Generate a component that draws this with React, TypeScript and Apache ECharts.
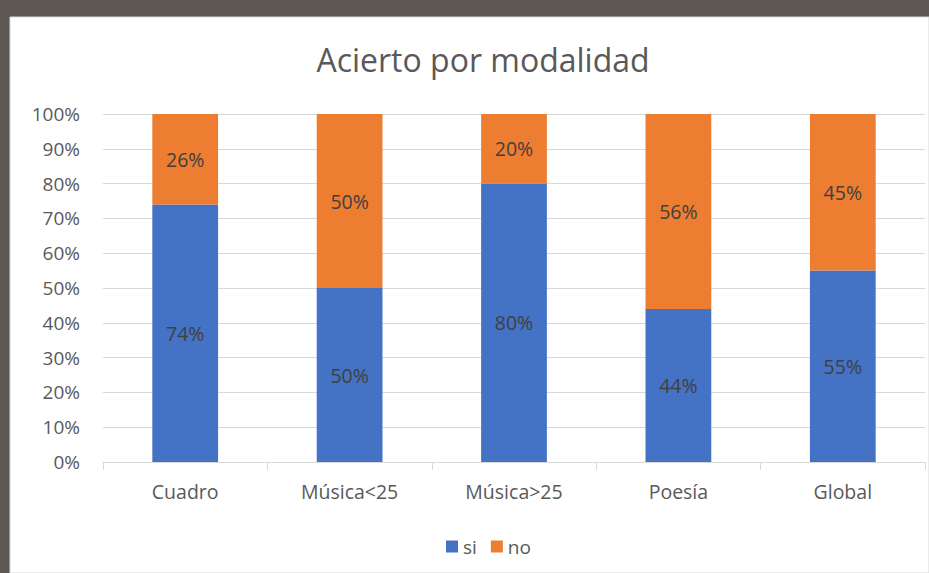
import React, { useEffect, useRef } from "react";
import * as echarts from "echarts";

const categories = ["Cuadro", "Música<25", "Música>25", "Poesía", "Global"];
const siValues = [74, 50, 80, 44, 55];
const noValues = [26, 50, 20, 56, 45];
const yTicks = [0, 10, 20, 30, 40, 50, 60, 70, 80, 90, 100];
const titleText = "Acierto por modalidad";

const FONT = "'Open Sans', 'Noto Sans', sans-serif";

export default function App() {
  const ref = useRef<HTMLDivElement>(null);
  useEffect(() => {
    if (!ref.current) return;
    const chart = echarts.init(ref.current, undefined, { renderer: "svg" });
    chart.setOption({
      animation: false,
      backgroundColor: "#5f5752",
      textStyle: { fontFamily: FONT },
      graphic: [
        {
          type: "rect",
          z: -10,
          shape: { x: 10, y: 17, width: 919, height: 556 },
          style: { fill: "#ffffff", stroke: "#d9d9d9", lineWidth: 1 },
        },
      ],
      title: {
        text: titleText,
        left: 478,
        top: 38,
        textAlign: "center",
        textStyle: { fontFamily: FONT, fontSize: 32, fontWeight: "normal", color: "#595959" },
      },
      legend: {
        data: ["si", "no"],
        left: 441,
        top: 532,
        itemWidth: 12,
        itemHeight: 12,
        itemGap: 14,
        icon: "rect",
        textStyle: { fontFamily: FONT, fontSize: 19, color: "#595959" },
      },
      grid: { left: 103, right: 4, top: 114, bottom: 111, containLabel: false },
      xAxis: {
        type: "category",
        data: categories,
        axisLine: { lineStyle: { color: "#d9d9d9", width: 1 } },
        axisTick: { show: true, length: 8, lineStyle: { color: "#d9d9d9" } },
        axisLabel: { fontFamily: FONT, fontSize: 19.5, color: "#595959", margin: 19 },
      },
      yAxis: {
        type: "value",
        min: 0,
        max: 100,
        interval: 10,
        axisLine: { show: false },
        axisTick: { show: false },
        axisLabel: {
          fontFamily: FONT,
          fontSize: 19,
          color: "#595959",
          margin: 23,
          formatter: (v: number) => (yTicks.includes(v) ? v + "%" : ""),
        },
        splitLine: { lineStyle: { color: "#d9d9d9", width: 1 } },
      },
      series: [
        {
          name: "si",
          type: "bar",
          stack: "total",
          data: siValues,
          barWidth: "40%",
          itemStyle: { color: "#4472c4" },
          label: {
            show: true,
            position: "inside",
            formatter: "{c}%",
            fontFamily: FONT,
            fontSize: 19.5,
            color: "#404040",
          },
        },
        {
          name: "no",
          type: "bar",
          stack: "total",
          data: noValues,
          barWidth: "40%",
          itemStyle: { color: "#ed7d31" },
          label: {
            show: true,
            position: "inside",
            formatter: "{c}%",
            fontFamily: FONT,
            fontSize: 19.5,
            color: "#404040",
          },
        },
      ],
    });
    return () => chart.dispose();
  }, []);
  return (
    <div style={{ position: "fixed", left: 0, top: 0, width: 929, height: 573 }}>
      <div ref={ref} style={{ width: 929, height: 573 }} />
    </div>
  );
}
